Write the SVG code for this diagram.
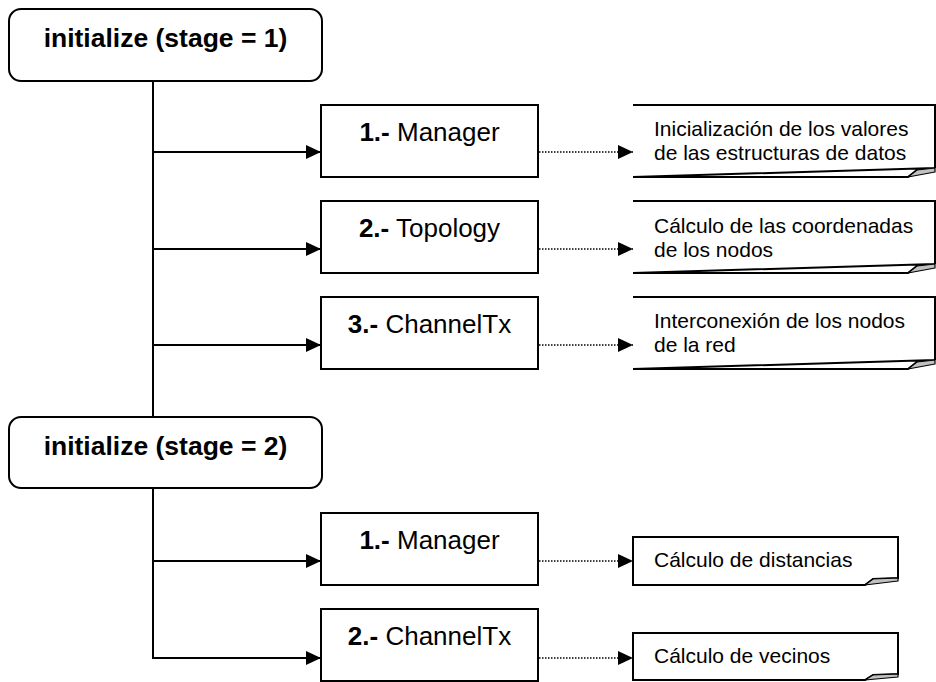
<svg xmlns="http://www.w3.org/2000/svg" width="936" height="682" viewBox="0 0 936 682">
<defs>
<style>
.hdr{fill:#fff;stroke:#000;stroke-width:2}
.box{fill:#fff;stroke:#000;stroke-width:2}
.note{fill:#fff;stroke:#000;stroke-width:2;stroke-linejoin:miter}
.curl{fill:#c0c0c0;stroke:#000;stroke-width:1.2;stroke-linejoin:round}
.ht{font-family:"Liberation Sans",Arial,sans-serif;font-size:26.5px;font-weight:bold;text-anchor:middle;fill:#000}
.bt{font-family:"Liberation Sans",Arial,sans-serif;font-size:26px;text-anchor:middle;fill:#000}
.bt .b{font-weight:bold}
.nt{font-family:"Liberation Sans",Arial,sans-serif;font-size:21px;fill:#000}
.solid{fill:none;stroke:#000;stroke-width:2}
.dot{fill:none;stroke:#000;stroke-width:1.5;stroke-dasharray:1.5 1.5}
</style>
<marker id="arr" markerUnits="userSpaceOnUse" markerWidth="16" markerHeight="16" refX="15" refY="7" orient="auto">
<path d="M0,0 L15,7 L0,14 Z" fill="#000"/>
</marker>
</defs>

<g id="connectors">
<path class="solid" d="M153,81 V417"/>
<path class="solid" d="M153,152 H321" marker-end="url(#arr)"/>
<path class="solid" d="M153,249 H321" marker-end="url(#arr)"/>
<path class="solid" d="M153,345 H321" marker-end="url(#arr)"/>
<path class="solid" d="M153,488 V658 H321" marker-end="url(#arr)"/>
<path class="solid" d="M153,561 H321" marker-end="url(#arr)"/>
<path class="dot" d="M539,152 H633" marker-end="url(#arr)"/>
<path class="dot" d="M539,249 H633" marker-end="url(#arr)"/>
<path class="dot" d="M539,345 H633" marker-end="url(#arr)"/>
<path class="dot" d="M539,561 H633" marker-end="url(#arr)"/>
<path class="dot" d="M539,658 H633" marker-end="url(#arr)"/>
</g>

<g id="stage1">
<rect class="hdr" x="9" y="9" width="313" height="72" rx="12" ry="12"/>
<text class="ht" x="165.5" y="47">initialize (stage = 1)</text>
</g>

<g id="s1-manager">
<rect class="box" x="321" y="105" width="217" height="72"/>
<text class="bt" x="429.5" y="141"><tspan class="b">1.-</tspan> Manager</text>
</g>

<g id="s1-topology">
<rect class="box" x="321" y="201" width="217" height="72"/>
<text class="bt" x="429.5" y="237"><tspan class="b">2.-</tspan> Topology</text>
</g>

<g id="s1-channeltx">
<rect class="box" x="321" y="297" width="217" height="72"/>
<text class="bt" x="429.5" y="333"><tspan class="b">3.-</tspan> ChannelTx</text>
</g>

<g id="note1">
<path class="note" d="M633,105 H935 V168 M935,168 L917,170 L908,177 H633 Z"/>
<path class="curl" d="M908,177 L917,170 L935,168 L935,172 Z"/>
<text class="nt" x="654" y="136">Inicialización de los valores</text>
<text class="nt" x="654" y="160">de las estructuras de datos</text>
</g>

<g id="note2">
<path class="note" d="M633,201 H935 V264 M935,264 L917,266 L908,273 H633 Z"/>
<path class="curl" d="M908,273 L917,266 L935,264 L935,268 Z"/>
<text class="nt" x="654" y="233">Cálculo de las coordenadas</text>
<text class="nt" x="654" y="257">de los nodos</text>
</g>

<g id="note3">
<path class="note" d="M633,297 H935 V360 M935,360 L917,362 L908,369 H633 Z"/>
<path class="curl" d="M908,369 L917,362 L935,360 L935,364 Z"/>
<text class="nt" x="654" y="328">Interconexión de los nodos</text>
<text class="nt" x="654" y="352">de la red</text>
</g>

<g id="stage2">
<rect class="hdr" x="9" y="417" width="313" height="71" rx="12" ry="12"/>
<text class="ht" x="165.5" y="455">initialize (stage = 2)</text>
</g>

<g id="s2-manager">
<rect class="box" x="321" y="513" width="217" height="72"/>
<text class="bt" x="429.5" y="549"><tspan class="b">1.-</tspan> Manager</text>
</g>

<g id="s2-channeltx">
<rect class="box" x="321" y="609" width="217" height="72"/>
<text class="bt" x="429.5" y="645"><tspan class="b">2.-</tspan> ChannelTx</text>
</g>

<g id="note4">
<path class="note" d="M633,537 H898 V578 L873,579 L865,585 H633 Z"/>
<path class="curl" d="M865,585 L873,579 L898,578 L898,581 Z"/>
<text class="nt" x="654" y="567">Cálculo de distancias</text>
</g>

<g id="note5">
<path class="note" d="M633,633 H898 V674 L873,675 L865,680 H633 Z"/>
<path class="curl" d="M865,680 L873,675 L898,674 L898,677 Z"/>
<text class="nt" x="654" y="663">Cálculo de vecinos</text>
</g>
</svg>
